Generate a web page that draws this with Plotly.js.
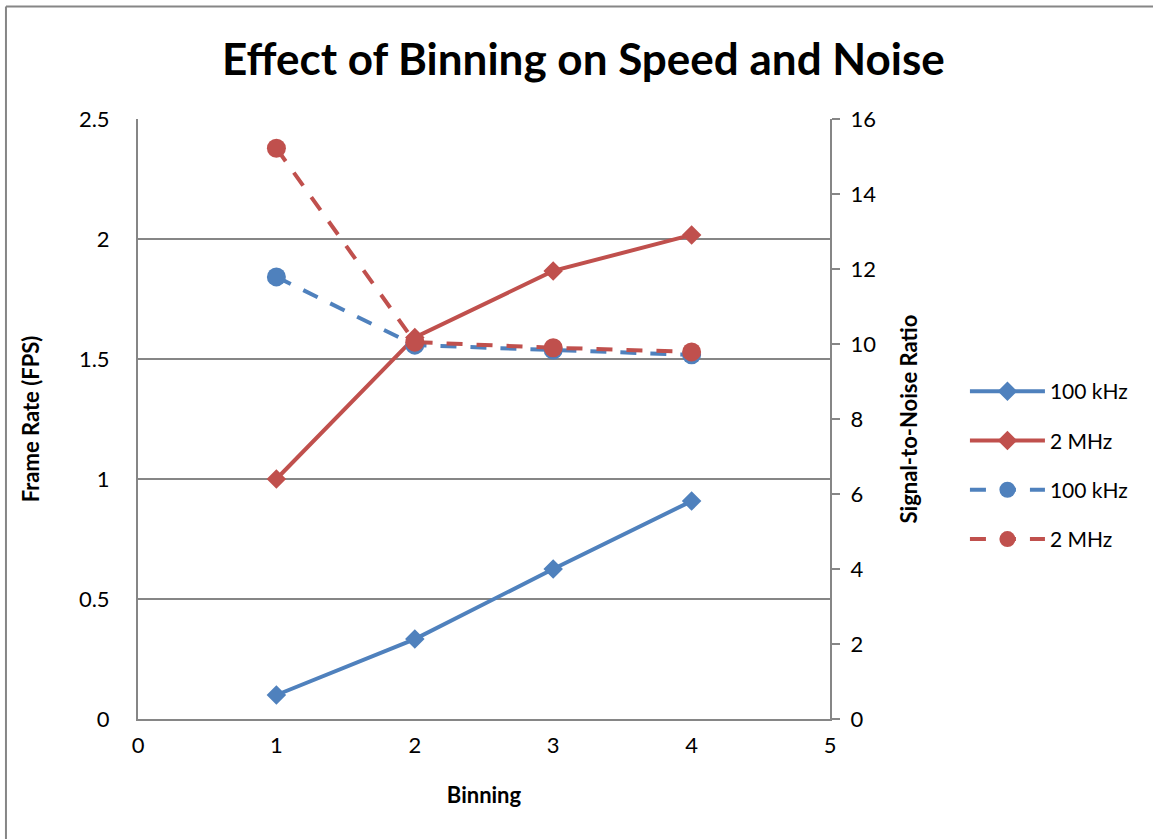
<!DOCTYPE html>
<html><head><meta charset="utf-8">
<script src="https://cdn.plot.ly/plotly-3.0.1.min.js"></script>
<style>html,body{margin:0;padding:0;background:#fff}#chart{width:1153px;height:839px}</style>
</head><body><div id="chart"></div>
<script>
const binning = [1, 2, 3, 4];
const fps100k = [0.10, 0.333, 0.625, 0.908];
const fps2M = [1.00, 1.59, 1.867, 2.017];
const snr100k = [11.79, 9.97, 9.84, 9.71];
const snr2M = [15.22, 10.05, 9.90, 9.79];
const seriesNames = ['100 kHz', '2 MHz', '100 kHz', '2 MHz'];

const blue = '#4F81BD', red = '#C0504D';
const font = 'Lato, "Open Sans", "Liberation Sans", sans-serif';

const traces = [
  {x: binning, y: fps100k, name: seriesNames[0], mode: 'lines+markers', legendgroup: 'a',
   line: {color: blue, width: 4}, marker: {symbol: 'diamond', size: 15, color: blue}},
  {x: binning, y: fps2M, name: seriesNames[1], mode: 'lines+markers', legendgroup: 'b',
   line: {color: red, width: 4}, marker: {symbol: 'diamond', size: 15, color: red}},
  {x: binning, y: snr100k, name: seriesNames[2], mode: 'lines+markers', yaxis: 'y2', legendgroup: 'c',
   line: {color: blue, width: 4, dash: '16px,14px'}, marker: {symbol: 'circle', size: 19, color: blue}},
  {x: binning, y: snr2M, name: seriesNames[3], mode: 'lines+markers', yaxis: 'y2', legendgroup: 'd',
   line: {color: red, width: 4, dash: '16px,14px'}, marker: {symbol: 'circle', size: 19, color: red}}
];

const layout = {
  width: 1153, height: 839,
  margin: {l: 138, r: 323, t: 119, b: 120, pad: 0},
  paper_bgcolor: '#fff', plot_bgcolor: '#fff',
  font: {family: font, size: 22, color: '#000'},
  title: {text: '<b>Effect of Binning on Speed and Noise</b>', font: {size: 44, family: font, color: '#000'},
          x: 0.506, xref: 'container', xanchor: 'center', y: 1 - 60/839, yanchor: 'middle'},
  showlegend: true,
  legend: {x: 1.195, y: 0.58, xanchor: 'left', yanchor: 'top', font: {size: 21},
           tracegroupgap: 19, itemwidth: 75, bgcolor: 'rgba(0,0,0,0)'},
  xaxis: {range: [0, 5], dtick: 1, showgrid: false, zeroline: false, showline: true,
          linecolor: '#868686', linewidth: 2, ticks: '', ticklen: 0, ticklabelstandoff: 6,
          title: {text: '<b>Binning</b>', font: {size: 22}, standoff: 30}, fixedrange: true},
  yaxis: {range: [0, 2.5], dtick: 0.5, showgrid: true, gridcolor: '#868686', gridwidth: 2,
          zeroline: false, showline: true, linecolor: '#868686', linewidth: 2, ticks: '',
          ticklabelstandoff: 22,
          title: {text: '<b>Frame Rate (FPS)</b>', font: {size: 22}, standoff: 33}},
  yaxis2: {range: [0, 16], dtick: 2, overlaying: 'y', side: 'right', showgrid: false, zeroline: false,
           showline: true, linecolor: '#868686', linewidth: 2, ticks: 'outside', ticklen: 8,
           tickcolor: '#868686', tickwidth: 2, ticklabelstandoff: 6,
           title: {text: '<b>Signal-to-Noise Ratio</b>', font: {size: 22}, standoff: 26}},
  shapes: [
    {type: 'line', xref: 'paper', yref: 'paper', x0: -0.1908, x1: 1.47, y0: 1.1875, y1: 1.1875,
     line: {color: '#868686', width: 2}},
    {type: 'line', xref: 'paper', yref: 'paper', x0: -0.1908, x1: -0.1908, y0: 1.1875, y1: -0.21,
     line: {color: '#868686', width: 2}}
  ]
};
Plotly.newPlot('chart', traces, layout, {displayModeBar: false, staticPlot: true});
</script></body></html>
